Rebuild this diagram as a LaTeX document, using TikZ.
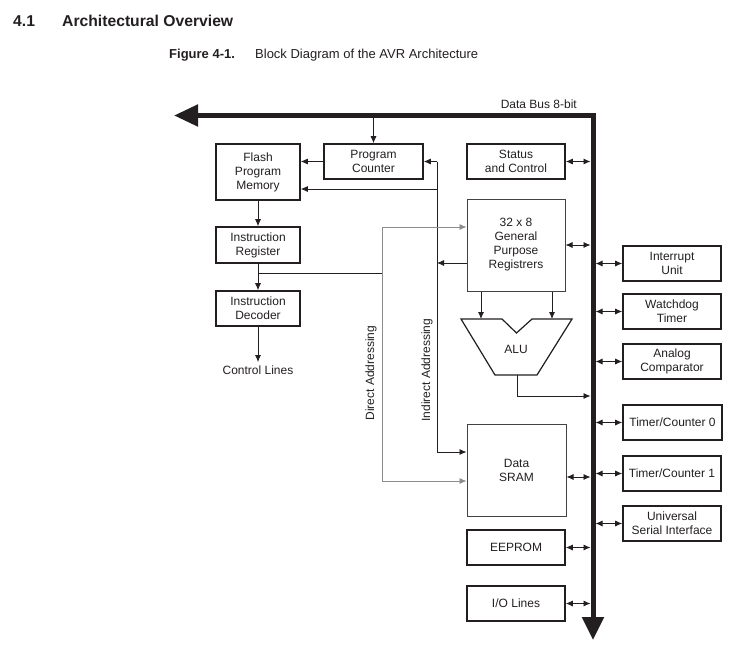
\documentclass[tikz,border=0pt]{standalone}
\usepackage{fontspec}
\setmainfont{Liberation Sans}
\usetikzlibrary{arrows.meta}

\definecolor{ink}{HTML}{231F20}
\definecolor{addr}{HTML}{8C8C8C}

\begin{document}
\begin{tikzpicture}[x=1pt,y=-1pt,
    every node/.style={text=ink,font=\fontsize{12}{14}\selectfont},
    box/.style={draw=ink,line width=1.6pt,minimum width=98pt,minimum height=35pt,align=center,inner sep=0pt},
    regbox/.style={draw=ink!85,line width=1pt,minimum width=98pt,minimum height=92pt,align=center,inner sep=0pt},
    wire/.style={draw=ink,line width=0.8pt},
    arr/.style={wire,-{Latex[length=7pt,width=6pt]}},
    dbl/.style={wire,{Latex[length=7pt,width=6pt]}-{Latex[length=7pt,width=6pt]}},
    addrarr/.style={draw=addr,line width=0.8pt,-{Latex[length=7pt,width=6pt]}},
    bus/.style={draw=ink,line width=5pt,line join=miter,{Triangle[length=24pt,width=21pt]}-{Triangle[length=23pt,width=21pt]}}]
    \useasboundingbox (0,0) rectangle (751,656);
    % Headings
    \node[font=\fontsize{15.7}{18}\selectfont\bfseries,anchor=base west,inner sep=0pt] (secnum) at (13,26) {4.1};
    \node[font=\fontsize{15.7}{18}\selectfont\bfseries,anchor=base west,inner sep=0pt] (sectitle) at (62,26) {Architectural Overview};
    \node[font=\fontsize{13}{15}\selectfont\bfseries,anchor=base west,inner sep=0pt] (fignum) at (169,58) {Figure 4-1.};
    \node[font=\fontsize{13}{15}\selectfont,anchor=base west,inner sep=0pt] (figtitle) at (255,58) {Block Diagram of the AVR Architecture};

    % Draw data bus
    \coordinate (busL) at (174,115.5);
    \coordinate (busC) at (593,115.5);
    \coordinate (busB) at (593,640);
    \coordinate (busin) at (590.5,0);
    \coordinate (busout) at (595.5,0);
    \draw[bus] (busL) -- (busC) -- (busB);
    \node[anchor=base east,inner sep=0pt] (buslabel) at (577,108) {Data Bus 8-bit};

    % Left column
    \node[box,minimum width=84pt,minimum height=56pt] (flash) at (258,172) {Flash\\Program\\Memory};
    \node[box,minimum width=99pt] (pc) at (373.5,161.5) {Program\\Counter};
    \node[box,minimum width=84pt,minimum height=36pt] (ir) at (258,245) {Instruction\\Register};
    \node[box,minimum width=84pt] (id) at (258,308.5) {Instruction\\Decoder};
    \node (ctrl) at (258,370) {Control Lines};

    % Middle column
    \node[box] (status) at (516,161.5) {Status\\and Control};
    \node[regbox] (gpr) at (516,245) {32 x 8\\General\\Purpose\\Registrers};
    \node[regbox,minimum width=99pt] (sram) at (516.5,470) {Data\\SRAM};
    \node[box] (eeprom) at (516,547.5) {EEPROM};
    \node[box] (io) at (516,603.5) {I/O Lines};

    % Draw ALU
    \draw[draw=ink,line width=1.2pt,line join=miter] (461,319) -- (502,319) -- (516.5,333) -- (532,319)
        -- (572,319) -- (537,375) -- (495,375) -- cycle;
    \node (alu) at (516,349) {ALU};
    \coordinate (alu-a) at (481,319);
    \coordinate (alu-b) at (552,319);
    \coordinate (alu-out) at (517,375);
    \coordinate (alu-bus) at (590.5,396);

    % Right column
    \node[box] (intr) at (672,263.5) {Interrupt\\Unit};
    \node[box] (wdt) at (672,311.5) {Watchdog\\Timer};
    \node[box] (ac) at (672,361.5) {Analog\\Comparator};
    \node[box,minimum width=99pt] (tc0) at (672.5,422.5) {Timer/Counter 0};
    \node[box] (tc1) at (672,473.5) {Timer/Counter 1};
    \node[box] (usi) at (672,523.5) {Universal\\Serial Interface};

    % Program flow
    \draw[arr] (pc.north |- busC) -- (pc.north);
    \draw[arr] (pc.west) -- (pc.west -| flash.east);
    \draw[arr] (flash) -- (ir);
    \draw[arr] (ir) -- (id);
    \draw[arr] (id) -- (ctrl);

    % Indirect addressing
    \coordinate (ind-top) at (437,161.5);
    \coordinate (ind-fl) at (437,189);
    \coordinate (ind-gpr) at (437,263);
    \coordinate (ind-bot) at (437,452);
    \draw[wire] (ind-top) -- (ind-bot);
    \draw[arr] (ind-top) -- (pc.east);
    \draw[arr] (ind-fl) -- (ind-fl -| flash.east);
    \draw[arr] (ind-gpr -| gpr.west) -- (ind-gpr);
    \draw[arr] (ind-bot) -- (ind-bot -| sram.west);
    \node[rotate=90] (indlabel) at (427,370) {Indirect Addressing};

    % Direct addressing
    \coordinate (dir-ir) at (258,273);
    \coordinate (dir-top) at (382,227);
    \coordinate (dir-bot) at (382,481);
    \draw[wire] (dir-ir) -- (dir-ir -| dir-top);
    \draw[addrarr] (dir-bot) -- (dir-top) -- (dir-top -| gpr.west);
    \draw[addrarr] (dir-bot) -- (dir-bot -| sram.west);
    \node[rotate=90] (dirlabel) at (371,373) {Direct Addressing};

    % ALU links
    \draw[arr] (gpr.south -| alu-a) -- (alu-a);
    \draw[arr] (gpr.south -| alu-b) -- (alu-b);
    \draw[arr] (alu-out) |- (alu-bus);

    % Bus links
    \foreach \b in {status,gpr,eeprom,io}
       \draw[dbl] (\b.east) -- (\b.east -| busin);
    \draw[dbl] ([yshift=-7pt]sram.east) -- ([yshift=-7pt]sram.east -| busin);
    \foreach \b in {intr,wdt,ac,tc0,tc1,usi}
       \draw[dbl] (\b.west -| busout) -- (\b.west);
\end{tikzpicture}
\end{document}
